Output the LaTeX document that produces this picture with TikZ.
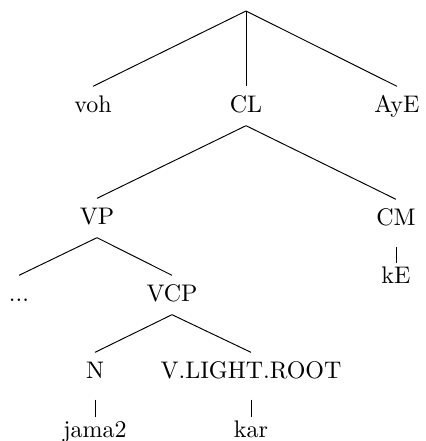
\documentclass[tikz,border=0pt]{standalone}
\begin{document}
\begin{tikzpicture}[x=0.4167pt, y=-0.4167pt,
  every node/.style={anchor=base, inner xsep=0pt, inner ysep=2.5pt, text height=8pt, text depth=3pt},
  unary/.style={shorten <=3.3pt, shorten >=-2.5pt}]
\useasboundingbox (0, 0) rectangle (425, 441);
\coordinate (root) at (246, 11);
\node (voh) at (93, 112) {voh};
\node (cl) at (246, 112) {CL};
\node (aye) at (397, 112) {AyE};
\node (vp) at (97, 224) {VP};
\node (cm) at (396, 225) {CM};
\node (dots) at (19, 301) {...};
\node (vcp) at (172, 301) {VCP};
\node (ke) at (396, 283) {kE};
\node (n) at (95, 378) {N};
\node (vlr) at (251, 378) {V.LIGHT.ROOT};
\node (jama) at (95, 437) {jama2};
\node (kar) at (251, 437) {kar};

\draw (root) to (voh.north);
\draw (root) to (cl.north);
\draw (root) to (aye.north);
\draw (cl.south) to (vp.north);
\draw (cl.south) to (cm.north);
\draw [unary] (cm.south) to (ke.north);
\draw (vp.south) to (dots.north);
\draw (vp.south) to (vcp.north);
\draw (vcp.south) to (n.north);
\draw (vcp.south) to (vlr.north);
\draw [unary] (n.south) to (jama.north);
\draw [unary] (vlr.south) to (kar.north);
\end{tikzpicture}
\end{document}
